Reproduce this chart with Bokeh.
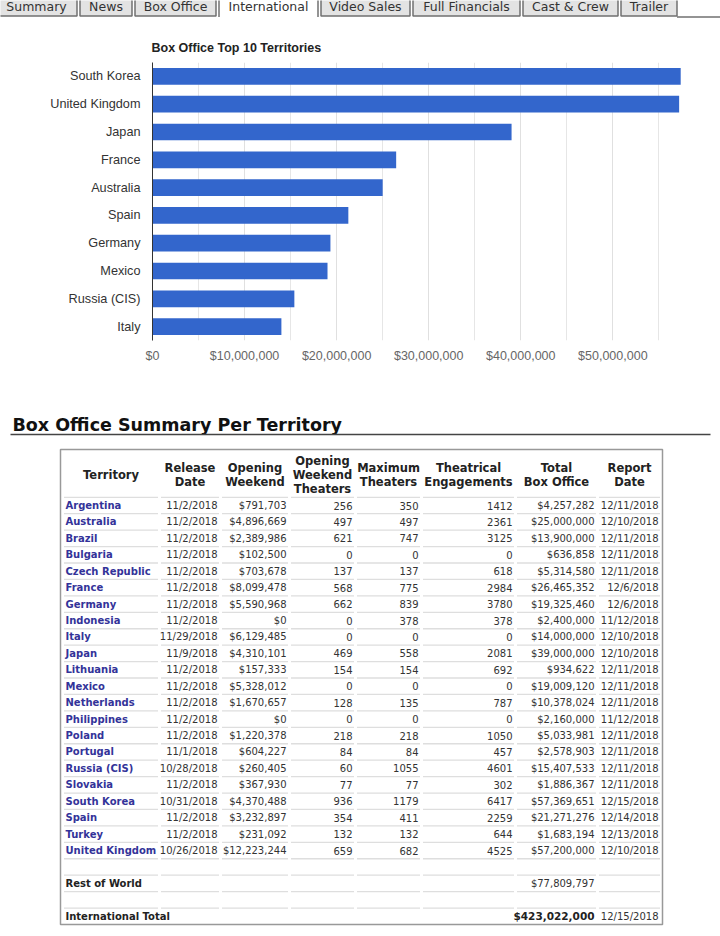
from bokeh.plotting import figure
from bokeh.layouts import column
from bokeh.models import (ColumnDataSource, FactorRange, Range1d, FixedTicker,
                          NumeralTickFormatter)
from bokeh.core.properties import value
from bokeh.embed import file_html
from bokeh.resources import INLINE

# ------------------------------------------------------------------ data
territories = ["Argentina", "Australia", "Brazil", "Bulgaria", "Czech Republic", "France",
               "Germany", "Indonesia", "Italy", "Japan", "Lithuania", "Mexico", "Netherlands",
               "Philippines", "Poland", "Portugal", "Russia (CIS)", "Slovakia", "South Korea",
               "Spain", "Turkey", "United Kingdom"]
release_dates = ["11/2/2018", "11/2/2018", "11/2/2018", "11/2/2018", "11/2/2018", "11/2/2018",
                 "11/2/2018", "11/2/2018", "11/29/2018", "11/9/2018", "11/2/2018", "11/2/2018",
                 "11/2/2018", "11/2/2018", "11/2/2018", "11/1/2018", "10/28/2018", "11/2/2018",
                 "10/31/2018", "11/2/2018", "11/2/2018", "10/26/2018"]
opening_weekend = [791703, 4896669, 2389986, 102500, 703678, 8099478, 5590968, 0, 6129485,
                   4310101, 157333, 5328012, 1670657, 0, 1220378, 604227, 260405, 367930,
                   4370488, 3232897, 231092, 12223244]
opening_theaters = [256, 497, 621, 0, 137, 568, 662, 0, 0, 469, 154, 0, 128, 0, 218, 84, 60,
                    77, 936, 354, 132, 659]
max_theaters = [350, 497, 747, 0, 137, 775, 839, 378, 0, 558, 154, 0, 135, 0, 218, 84, 1055,
                77, 1179, 411, 132, 682]
engagements = [1412, 2361, 3125, 0, 618, 2984, 3780, 378, 0, 2081, 692, 0, 787, 0, 1050, 457,
               4601, 302, 6417, 2259, 644, 4525]
total_box_office = [4257282, 25000000, 13900000, 636858, 5314580, 26465352, 19325460, 2400000,
                    14000000, 39000000, 934622, 19009120, 10378024, 2160000, 5033981, 2578903,
                    15407533, 1886367, 57369651, 21271276, 1683194, 57200000]
report_dates = ["12/11/2018", "12/10/2018", "12/11/2018", "12/11/2018", "12/11/2018",
                "12/6/2018", "12/6/2018", "11/12/2018", "12/10/2018", "12/10/2018",
                "12/11/2018", "12/11/2018", "12/11/2018", "11/12/2018", "12/11/2018",
                "12/11/2018", "12/11/2018", "12/11/2018", "12/15/2018", "12/14/2018",
                "12/13/2018", "12/10/2018"]
rest_of_world_label = "Rest of World"
rest_of_world = 77809797
total_label = "International Total"
international_total = 423022000
international_report_date = "12/15/2018"

header_lines = [["Territory"], ["Release", "Date"], ["Opening", "Weekend"],
                ["Opening", "Weekend", "Theaters"], ["Maximum", "Theaters"],
                ["Theatrical", "Engagements"], ["Total", "Box Office"], ["Report", "Date"]]

tab_labels = ["Summary", "News", "Box Office", "International", "Video Sales",
              "Full Financials", "Cast & Crew", "Trailer"]
active_tab = "International"

chart_title = "Box Office Top 10 Territories"
section_title = "Box Office Summary Per Territory"
x_ticks = [0, 10000000, 20000000, 30000000, 40000000, 50000000]
x_minor_ticks = [5000000, 15000000, 25000000, 35000000, 45000000, 55000000]

# ------------------------------------------------------------------ layout constants
W = 720
PAGE_X0, PAGE_X1 = 0, 720
FONT_TABLE = value("DejaVu Sans")
FONT_CHART = "Liberation Sans"
CHART_FS = "12.5px"


def money(v):
    return "${:,}".format(v)


def bare(fig):
    fig.grid.visible = False
    fig.outline_line_color = None
    fig.frame_align = False
    return fig


# ------------------------------------------------------------------ tabs strip
TABS_H = 20
tab_edges = [-6, 78, 133, 217, 319, 411, 521, 619, 678]
TAB_TOP, TAB_BOT = -4, 15.5
tabs = bare(figure(width=W, height=TABS_H, x_range=Range1d(PAGE_X0, PAGE_X1),
                   y_range=Range1d(TABS_H, 0), output_backend="svg", toolbar_location=None,
                   x_axis_location=None, y_axis_location=None, min_border=0,
                   min_border_left=0, min_border_right=0, min_border_top=0,
                   min_border_bottom=0))
lefts = [tab_edges[i] + 1.5 for i in range(len(tab_labels))]
rights = [tab_edges[i + 1] - 1.5 for i in range(len(tab_labels))]
fills = ["#ffffff" if t == active_tab else "#e3e3e3" for t in tab_labels]
tabs.quad(left=lefts, right=rights, top=TAB_TOP, bottom=TAB_BOT, fill_color=fills,
          line_color=None)
xs, ys = [], []
for lab, l, r in zip(tab_labels, lefts, rights):
    if lab == active_tab:
        xs.append([l, l]); ys.append([TAB_TOP, TAB_BOT + 1])
        xs.append([r, r]); ys.append([TAB_TOP, TAB_BOT + 1])
    else:
        xs.append([l, l, r, r]); ys.append([TAB_TOP, TAB_BOT, TAB_BOT, TAB_TOP])
xs.append([tab_edges[-1] - 1.5, PAGE_X1]); ys.append([TAB_BOT + 1, TAB_BOT + 1])
tabs.multi_line(xs=xs, ys=ys, line_color="#707070", line_width=1.5)
tabs.text(x=[(l + r) / 2 for l, r in zip(lefts, rights)], y=[6] * len(tab_labels),
          text=tab_labels, text_align="center", text_baseline="alphabetic",
          text_font=FONT_TABLE, text_font_size="12.5px", text_color="#333333")

# ------------------------------------------------------------------ bar chart
CHART_TOP_PAGE, CHART_BOT_PAGE = TABS_H, 395
ranked = sorted(zip(total_box_office, territories), reverse=True)[:10]
top_values = [v for v, _ in ranked]
top_names = [n for _, n in ranked]
bar_src = ColumnDataSource(dict(name=top_names, total=top_values))

chart = figure(width=W, height=CHART_BOT_PAGE - CHART_TOP_PAGE, output_backend="svg",
               toolbar_location=None,
               y_range=FactorRange(factors=list(reversed(top_names))),
               x_range=Range1d(0, 58000000),
               min_border_left=152, min_border_right=34,
               min_border_top=62 - CHART_TOP_PAGE,
               min_border_bottom=CHART_BOT_PAGE - 340)
chart.frame_align = False
chart.hbar(y="name", right="total", left=0, height=0.6, source=bar_src,
           fill_color="#3366cc", line_color=None)
chart.title.text = chart_title
chart.title.align = "left"
chart.title.text_font = FONT_CHART
chart.title.text_font_size = CHART_FS
chart.title.text_font_style = "bold"
chart.title.text_color = "#222222"
chart.title.offset = -1
chart.title.standoff = 15
chart.outline_line_color = None

chart.xaxis.ticker = FixedTicker(ticks=x_ticks)
chart.xaxis.formatter = NumeralTickFormatter(format="$0,0")
chart.xaxis.axis_line_color = None
chart.xaxis.major_tick_line_color = None
chart.xaxis.minor_tick_line_color = None
chart.xaxis.major_tick_out = 0
chart.xaxis.major_tick_in = 0
chart.xaxis.major_label_standoff = 8
chart.xaxis.major_label_text_font = FONT_CHART
chart.xaxis.major_label_text_font_size = CHART_FS
chart.xaxis.major_label_text_color = "#666666"

chart.yaxis.axis_line_color = "#333333"
chart.yaxis.major_tick_line_color = None
chart.yaxis.minor_tick_line_color = None
chart.yaxis.major_tick_out = 0
chart.yaxis.major_tick_in = 0
chart.yaxis.major_label_standoff = 12
chart.yaxis.major_label_text_font = FONT_CHART
chart.yaxis.major_label_text_font_size = "12.7px"
chart.yaxis.major_label_text_color = "#333333"

chart.xgrid.ticker = FixedTicker(ticks=x_ticks, minor_ticks=x_minor_ticks)
chart.xgrid.grid_line_color = "#e0e0e0"
chart.xgrid.minor_grid_line_color = "#e6e6e6"
chart.ygrid.grid_line_color = None

# ------------------------------------------------------------------ table
ROW_H = 16.43          # px per table row
ROW0_PAGE_Y = 505      # page y of first data row centre
FIG_TOP_PAGE, FIG_BOT_PAGE = CHART_BOT_PAGE, 936
col_edges = [62, 159, 220, 289, 355, 421, 515, 597, 661]
n = len(territories)
ROW_ROW = n + 1
ROW_TOTAL = n + 3


def prow(page_y):
    return (page_y - ROW0_PAGE_Y) / ROW_H


table = bare(figure(width=W, height=FIG_BOT_PAGE - FIG_TOP_PAGE, output_backend="svg",
                    toolbar_location=None, x_range=Range1d(PAGE_X0, PAGE_X1),
                    y_range=Range1d(prow(FIG_BOT_PAGE), prow(FIG_TOP_PAGE)),
                    x_axis_location=None, y_axis_location=None, min_border=0,
                    min_border_left=0, min_border_right=0, min_border_top=0,
                    min_border_bottom=0))

# section heading
table.text(x=[12], y=[prow(424)], text=[section_title], text_align="left",
           text_baseline="middle", text_font=FONT_TABLE, text_font_size="17.5px",
           text_font_style="bold", text_color="#111111")
table.segment(x0=[10], x1=[710], y0=[prow(434)], y1=[prow(434)],
              line_color="#444444", line_width=1.5)

# row separators (broken at cell gaps)
sx0, sx1, sy = [], [], []
for k in range(-1, ROW_TOTAL):
    for j in range(len(col_edges) - 1):
        sx0.append(col_edges[j] + 1.5)
        sx1.append(col_edges[j + 1] - 1.5)
        sy.append(k + 0.5)
table.segment(x0=sx0, x1=sx1, y0=sy, y1=sy, line_color="#dedede", line_width=1.3)

# outer border
table.quad(left=[60], right=[662], top=[prow(449)], bottom=[ROW_TOTAL + 0.5],
           fill_color=None, line_color="#999999", line_width=1.5)

# header
hx, hy, ht = [], [], []
HEAD_C, HEAD_STEP = prow(474), 14 / ROW_H
for j, lines in enumerate(header_lines):
    cx = (col_edges[j] + col_edges[j + 1]) / 2
    for k, s in enumerate(lines):
        hx.append(cx)
        hy.append(HEAD_C + (k - (len(lines) - 1) / 2) * HEAD_STEP)
        ht.append(s)
table.text(x=hx, y=hy, text=ht, text_align="center", text_baseline="middle",
           text_font=FONT_TABLE, text_font_size="11.5px", text_font_style="bold",
           text_color="#222222")

rows = list(range(n))
# territory names (links)
table.text(x=[col_edges[0] + 3] * n, y=rows, text=territories, text_align="left",
           text_baseline="middle", text_font=FONT_TABLE, text_font_size="10px",
           text_font_style="bold", text_color="#333399")

columns_text = [release_dates,
                [money(v) for v in opening_weekend],
                [str(v) for v in opening_theaters],
                [str(v) for v in max_theaters],
                [str(v) for v in engagements],
                [money(v) for v in total_box_office],
                report_dates]
vx, vy, vt = [], [], []
for j, col in enumerate(columns_text):
    for i, s in enumerate(col):
        vx.append(col_edges[j + 2] - 3)
        vy.append(i)
        vt.append(s)
vx += [col_edges[7] - 3, col_edges[8] - 3]
vy += [ROW_ROW, ROW_TOTAL]
vt += [money(rest_of_world), international_report_date]
table.text(x=vx, y=vy, text=vt, text_align="right", text_baseline="middle",
           text_font=FONT_TABLE, text_font_size="10px", text_color="#333333")

# summary rows (bold)
table.text(x=[col_edges[0] + 3, col_edges[0] + 3], y=[ROW_ROW, ROW_TOTAL],
           text=[rest_of_world_label, total_label], text_align="left",
           text_baseline="middle", text_font=FONT_TABLE, text_font_size="10px",
           text_font_style="bold", text_color="#222222")
table.text(x=[col_edges[7] - 3], y=[ROW_TOTAL], text=[money(international_total)],
           text_align="right", text_baseline="middle", text_font=FONT_TABLE,
           text_font_size="10.5px", text_font_style="bold", text_color="#222222")

layout = column(tabs, chart, table, spacing=0)
open("out.html", "w").write(file_html(layout, INLINE))
